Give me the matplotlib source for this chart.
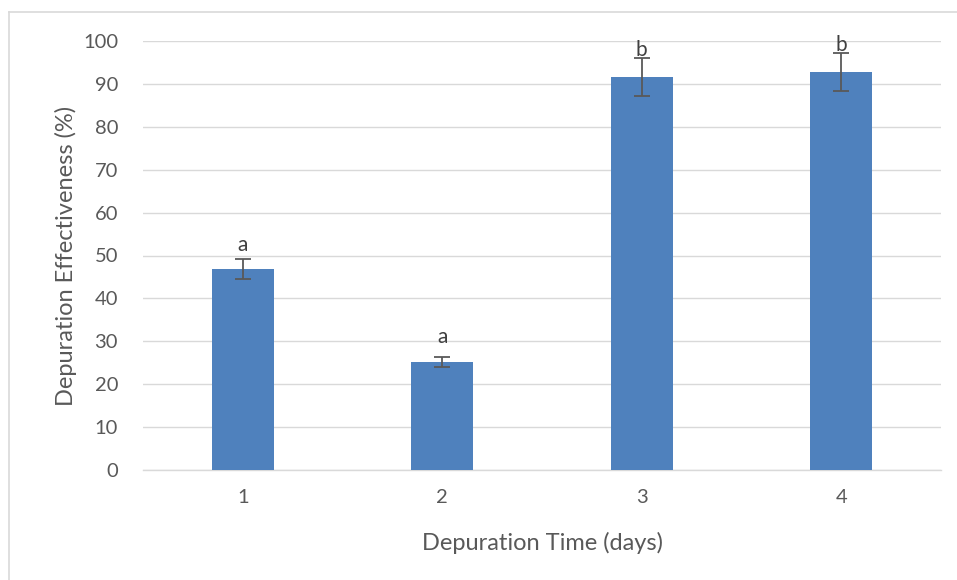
import matplotlib
matplotlib.use("Agg")
import matplotlib.pyplot as plt
from matplotlib.lines import Line2D

categories = ["1", "2", "3", "4"]
values = [46.9, 25.2, 91.6, 92.8]
errors = [2.4, 1.2, 4.4, 4.5]
letters = ["a", "a", "b", "b"]
letter_y = [52.4, 31.0, 97.9, 99.0]
yticks = [0, 10, 20, 30, 40, 50, 60, 70, 80, 90, 100]

plt.rcParams['font.family'] = ['Lato', 'DejaVu Sans']
txt = '#595959'

fig = plt.figure(figsize=(9.57, 5.8), dpi=100)
ax = fig.add_axes([143/957, 1-470/580, (941-143)/957, (470-41)/580])

x = list(range(len(categories)))
ax.bar(x, values, width=0.31, color='#4F81BD', zorder=3)
ax.errorbar(x, values, yerr=errors, fmt='none', ecolor='#595959', elinewidth=1.3,
            capsize=5.5, capthick=1.3, zorder=4)
for xi, l, ly in zip(x, letters, letter_y):
    ax.text(xi, ly, l, ha='center', va='center', fontsize=15, color='#404040', zorder=5)

ax.set_xlim(-0.5, 3.5)
ax.set_ylim(0, 100)
ax.set_yticks(yticks)
ax.set_xticks(x)
ax.set_xticklabels(categories)
ax.tick_params(length=0, labelsize=14.5, colors=txt)
ax.tick_params(axis='x', pad=14)
ax.tick_params(axis='y', pad=18)
ax.grid(axis='y', color='#D9D9D9', linewidth=1, zorder=0)
for s in ['top', 'right', 'left']:
    ax.spines[s].set_visible(False)
ax.spines['bottom'].set_color('#D9D9D9')
ax.spines['bottom'].set_linewidth(1)
ax.set_xlabel("Depuration Time (days)", fontsize=17, color=txt, labelpad=18)
ax.set_ylabel("Depuration Effectiveness (%)", fontsize=17, color=txt, labelpad=4)

# outer chart frame (left and top edges visible)
fig.add_artist(Line2D([9/957, 9/957], [0, 1-12/580], transform=fig.transFigure, color='#D9D9D9', lw=1.2))
fig.add_artist(Line2D([9/957, 1], [1-12/580, 1-12/580], transform=fig.transFigure, color='#D9D9D9', lw=1.2))

fig.savefig("out.png", dpi=100)
